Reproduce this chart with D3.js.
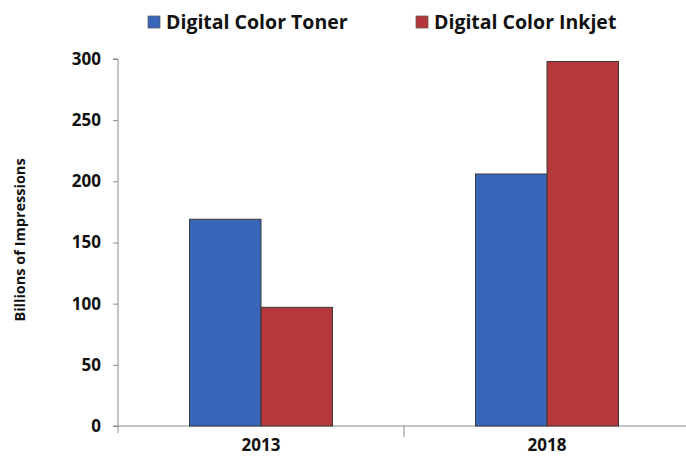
<!DOCTYPE html>
<html><head><meta charset="utf-8">
<script src="https://cdn.jsdelivr.net/npm/d3@7"></script>
<style>body{margin:0;background:#fff}svg{display:block}text{font-family:"Open Sans",sans-serif;font-weight:bold;fill:#111}</style>
</head><body><svg id="c" width="686" height="458"></svg>
<script>
const categories = ["2013", "2018"];
const seriesNames = ["Digital Color Toner", "Digital Color Inkjet"];
const tonerValues = [169, 206];
const inkjetValues = [97, 298];
const yTicks = [0, 50, 100, 150, 200, 250, 300];
const colors = ["#3A66BA", "#B5393A"];

const svg = d3.select("#c");
const x = d3.scaleBand().domain(categories).range([118, 690]).paddingInner(0).paddingOuter(0);
const xs = d3.scaleBand().domain(seriesNames).range([0, x.bandwidth()]).paddingInner(0).paddingOuter(1);
const y = d3.scaleLinear().domain([0, 300]).range([426, 59]);

// y axis
const ya = svg.append("g").attr("transform", "translate(118,0)")
  .call(d3.axisLeft(y).tickValues(yTicks).tickSize(5).tickPadding(12));
ya.select(".domain").attr("d", "M-5,59H0V433").attr("stroke", "#8a8a8a");
ya.selectAll(".tick line").attr("stroke", "#8a8a8a");
ya.selectAll(".tick text").style("font-size", "17px").attr("fill", "#111");

// x axis
const xa = svg.append("g").attr("transform", "translate(0,426)")
  .call(d3.axisBottom(x).tickSize(0).tickPadding(13));
xa.select(".domain").attr("d", "M113,0H690").attr("stroke", "#8a8a8a");
xa.selectAll(".tick text").style("font-size", "17px").attr("fill", "#111").attr("dy", "0.71em");
// category boundary ticks
svg.append("g").selectAll("line").data(categories.slice(1)).join("line")
  .attr("x1", d => x(d)).attr("x2", d => x(d)).attr("y1", 426).attr("y2", 437)
  .attr("stroke", "#8a8a8a");

// bars
const data = categories.map((c, i) => ({c, vals: [tonerValues[i], inkjetValues[i]]}));
svg.append("g").selectAll("g").data(data).join("g")
  .attr("transform", d => `translate(${x(d.c)},0)`)
  .selectAll("rect").data(d => d.vals.map((v, j) => ({v, s: seriesNames[j], j})))
  .join("rect")
  .attr("x", d => xs(d.s)).attr("width", xs.bandwidth())
  .attr("y", d => y(d.v)).attr("height", d => y(0) - y(d.v))
  .attr("fill", d => colors[d.j]).attr("stroke", "#3a3a3a").attr("stroke-width", 1);

// y title
svg.append("text").attr("transform", "translate(25,240) rotate(-90)")
  .attr("text-anchor", "middle").style("font-size", "14.5px").text("Billions of Impressions");

// legend
const legX = [148, 416];
const lg = svg.append("g").selectAll("g").data(seriesNames).join("g")
  .attr("transform", (d, i) => `translate(${legX[i]},16)`);
lg.append("rect").attr("width", 12).attr("height", 12).attr("fill", (d, i) => colors[i]).attr("stroke", "#555").attr("stroke-width", 0.7);
lg.append("text").attr("x", 18).attr("y", 13).style("font-size", "19.5px").text(d => d);
</script></body></html>
